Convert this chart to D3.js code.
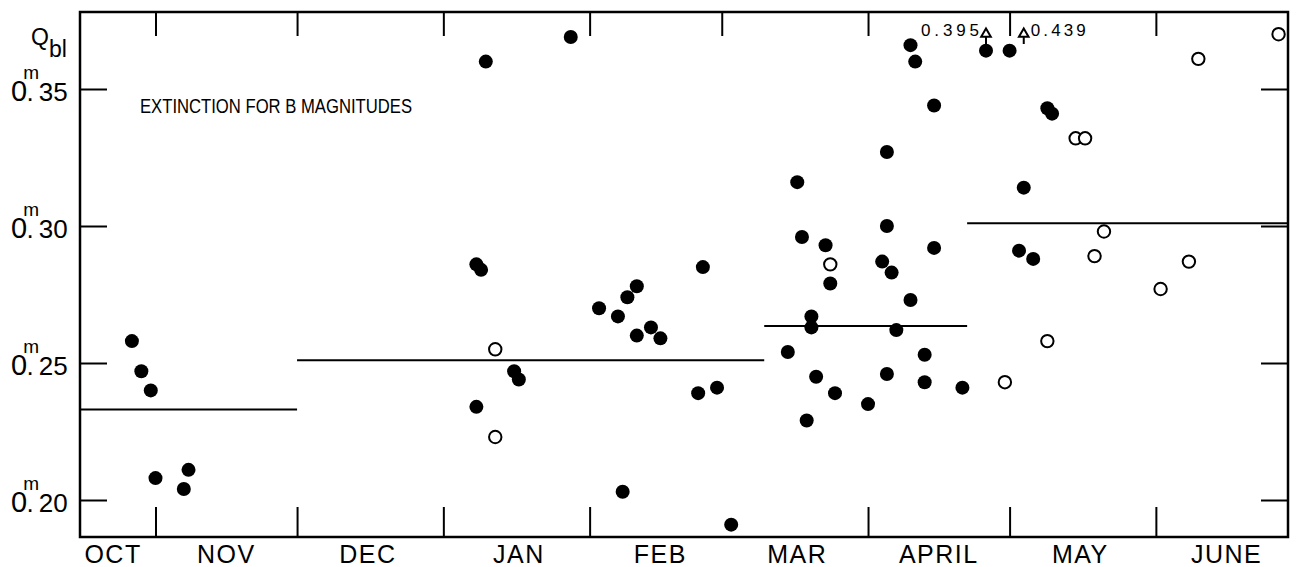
<!DOCTYPE html>
<html lang="en">

<head>
    <script src="https://cdn.jsdelivr.net/npm/d3@7"></script>
    <meta charset="UTF-8">
    <title>Extinction for B magnitudes</title>
    <style>
        body {
            margin: 0;
            background: #fff;
        }

        text {
            font-family: "Liberation Sans", Arial, sans-serif;
            fill: #000;
        }
    </style>
</head>

<body>
    <svg id="svg1" width="1296" height="567"></svg>
    <script>
        let parseDate = d3.utcParse("%Y-%m-%d");

        // month boundaries and labels
        let monthStarts = ["1961-11-01", "1961-12-01", "1962-01-01", "1962-02-01", "1962-03-01", "1962-04-01", "1962-05-01", "1962-06-01"];
        let bottomTickDates = ["1961-11-01", "1961-12-01", "1962-01-01", "1962-02-01", "1962-04-01", "1962-05-01", "1962-06-01"];
        let monthNames = ["OCT", "NOV", "DEC", "JAN", "FEB", "MAR", "APRIL", "MAY", "JUNE"];
        let monthLabelDates = ["1961-10-23", "1961-11-16", "1961-12-16", "1962-01-17", "1962-02-16", "1962-03-17", "1962-04-16", "1962-05-16", "1962-06-16"];
        let yTicks = [0.20, 0.25, 0.30, 0.35];

        // filled circles
        let filledDates = [
            "1961-10-27", "1961-10-29", "1961-10-31", "1961-11-01", "1961-11-07", "1961-11-08",
            "1962-01-08", "1962-01-09", "1962-01-10", "1962-01-08", "1962-01-16", "1962-01-17", "1962-01-28",
            "1962-02-03", "1962-02-07", "1962-02-08", "1962-02-09", "1962-02-11", "1962-02-11", "1962-02-14",
            "1962-02-16", "1962-02-25", "1962-02-24", "1962-02-28", "1962-03-03",
            "1962-03-15", "1962-03-17", "1962-03-18", "1962-03-19", "1962-03-20", "1962-03-20", "1962-03-21",
            "1962-03-23", "1962-03-24", "1962-03-25",
            "1962-04-01", "1962-04-04", "1962-04-05", "1962-04-05", "1962-04-05", "1962-04-06", "1962-04-07",
            "1962-04-10", "1962-04-11", "1962-04-10", "1962-04-13", "1962-04-13", "1962-04-15", "1962-04-15",
            "1962-04-21", "1962-04-26", "1962-05-01",
            "1962-05-03", "1962-05-04", "1962-05-06", "1962-05-09", "1962-05-10"
        ];
        let filledValues = [
            0.258, 0.247, 0.240, 0.208, 0.204, 0.211,
            0.286, 0.284, 0.360, 0.234, 0.247, 0.244, 0.369,
            0.270, 0.267, 0.203, 0.274, 0.278, 0.260, 0.263,
            0.259, 0.285, 0.239, 0.241, 0.191,
            0.254, 0.316, 0.296, 0.229, 0.267, 0.263, 0.245,
            0.293, 0.279, 0.239,
            0.235, 0.287, 0.327, 0.300, 0.246, 0.283, 0.262,
            0.366, 0.360, 0.273, 0.243, 0.253, 0.344, 0.292,
            0.241, 0.364, 0.364,
            0.291, 0.314, 0.288, 0.343, 0.341
        ];

        // open circles
        let openDates = [
            "1962-01-12", "1962-01-12", "1962-03-24", "1962-04-30", "1962-05-09", "1962-05-15", "1962-05-17",
            "1962-05-19", "1962-05-21", "1962-06-02", "1962-06-08", "1962-06-10", "1962-06-27"
        ];
        let openValues = [0.255, 0.223, 0.286, 0.243, 0.258, 0.332, 0.332, 0.289, 0.298, 0.277, 0.287, 0.361, 0.370];

        // off-scale values shown by arrows
        let arrowDates = ["1962-04-26", "1962-05-04"];
        let arrowValues = [0.395, 0.439];

        // mean extinction per period
        let meanStarts = ["1961-10-16", "1961-12-01", "1962-03-10", "1962-04-22"];
        let meanEnds = ["1961-12-01", "1962-03-10", "1962-04-22", "1962-06-29"];
        let meanValues = [0.233, 0.251, 0.2635, 0.301];

        let svgElement = d3.select("#svg1");
        let plotLeft = 80, plotRight = 1288, plotTop = 12, plotBottom = 537;

        let x = d3.scaleUtc()
            .domain([parseDate("1961-10-16"), parseDate("1962-06-29")])
            .range([plotLeft, plotRight]);
        let y = d3.scaleLinear()
            .domain([0.20, 0.35])
            .range([500, 89]);

        function styleTicks(g) {
            g.select(".domain").remove();
            g.selectAll(".tick line").attr("stroke", "#000").attr("stroke-width", 2);
            g.selectAll(".tick text").remove();
        }

        svgElement.append("g")
            .attr("transform", `translate(0,${plotBottom})`)
            .call(d3.axisBottom(x).tickValues(bottomTickDates.map(parseDate)).tickSize(-30))
            .call(styleTicks);

        svgElement.append("g")
            .attr("transform", `translate(0,${plotTop})`)
            .call(d3.axisTop(x).tickValues(monthStarts.map(parseDate)).tickSize(-24))
            .call(styleTicks);

        svgElement.append("g")
            .attr("transform", `translate(${plotRight},0)`)
            .call(d3.axisRight(y).tickValues(yTicks).tickSize(-27))
            .call(styleTicks);

        let leftAxis = svgElement.append("g")
            .attr("transform", `translate(${plotLeft},0)`)
            .call(d3.axisLeft(y).tickValues(yTicks).tickSize(-27))
            .call(styleTicks);

        // labels written as 0^m.35
        leftAxis.selectAll(".tick").each(function (d) {
            let parts = d3.format(".2f")(d).split(".");
            let label = d3.select(this).append("text")
                .attr("x", -69)
                .attr("y", 11)
                .attr("text-anchor", "start")
                .attr("font-family", "Liberation Sans, Arial, sans-serif");
            label.append("tspan").attr("font-size", 29).text(parts[0]);
            label.append("tspan").attr("font-size", 19).attr("dx", -4).attr("dy", -22).text("m");
            label.append("tspan").attr("font-size", 26).attr("dx", -12.5).attr("dy", 22).text(".");
            label.append("tspan").attr("font-size", 26).attr("dx", 5).text(parts[1]);
        });

        // frame
        svgElement.append("rect")
            .attr("x", plotLeft)
            .attr("y", plotTop)
            .attr("width", plotRight - plotLeft)
            .attr("height", plotBottom - plotTop)
            .attr("fill", "none")
            .attr("stroke", "#000")
            .attr("stroke-width", 2.5);

        // month names
        svgElement.append("g")
            .selectAll("text")
            .data(monthNames)
            .join("text")
            .attr("x", (d, i) => x(parseDate(monthLabelDates[i])))
            .attr("y", 563)
            .attr("text-anchor", "middle")
            .attr("font-size", 25)
            .attr("letter-spacing", 1.5)
            .text(d => d);

        // mean lines
        svgElement.append("g")
            .selectAll("line")
            .data(meanValues)
            .join("line")
            .attr("x1", (d, i) => x(parseDate(meanStarts[i])))
            .attr("x2", (d, i) => x(parseDate(meanEnds[i])))
            .attr("y1", d => y(d))
            .attr("y2", d => y(d))
            .attr("stroke", "#000")
            .attr("stroke-width", 2);

        svgElement.append("g")
            .selectAll("circle")
            .data(filledValues)
            .join("circle")
            .attr("cx", (d, i) => x(parseDate(filledDates[i])))
            .attr("cy", d => y(d))
            .attr("r", 7)
            .attr("fill", "#000");

        svgElement.append("g")
            .selectAll("circle")
            .data(openValues)
            .join("circle")
            .attr("cx", (d, i) => x(parseDate(openDates[i])))
            .attr("cy", d => y(d))
            .attr("r", 6.2)
            .attr("fill", "#fff")
            .attr("stroke", "#000")
            .attr("stroke-width", 2);

        // off-scale arrows
        let arrows = svgElement.append("g")
            .selectAll("g")
            .data(arrowValues)
            .join("g")
            .attr("transform", (d, i) => `translate(${x(parseDate(arrowDates[i]))},34)`);

        arrows.append("line")
            .attr("y1", 3)
            .attr("y2", 10)
            .attr("stroke", "#000")
            .attr("stroke-width", 2);

        arrows.append("path")
            .attr("d", d3.symbol().type(d3.symbolTriangle).size(40))
            .attr("fill", "#fff")
            .attr("stroke", "#000")
            .attr("stroke-width", 2);

        arrows.append("text")
            .attr("x", (d, i) => i == 0 ? -7 : 7)
            .attr("y", 2)
            .attr("text-anchor", (d, i) => i == 0 ? "end" : "start")
            .attr("font-size", 17)
            .attr("textLength", (d, i) => i == 0 ? 58 : 55)
            .attr("lengthAdjust", "spacing")
            .text(d => d3.format(".3f")(d));

        // titles
        svgElement.append("text")
            .attr("x", 140)
            .attr("y", 113)
            .attr("font-size", 20)
            .attr("textLength", 272)
            .attr("lengthAdjust", "spacingAndGlyphs")
            .text("EXTINCTION  FOR  B  MAGNITUDES");

        let qLabel = svgElement.append("text")
            .attr("x", 31)
            .attr("y", 45)
            .attr("font-size", 23);
        qLabel.append("tspan").text("Q");
        qLabel.append("tspan").attr("dy", 12).text("bl");
    </script>
</body>

</html>
